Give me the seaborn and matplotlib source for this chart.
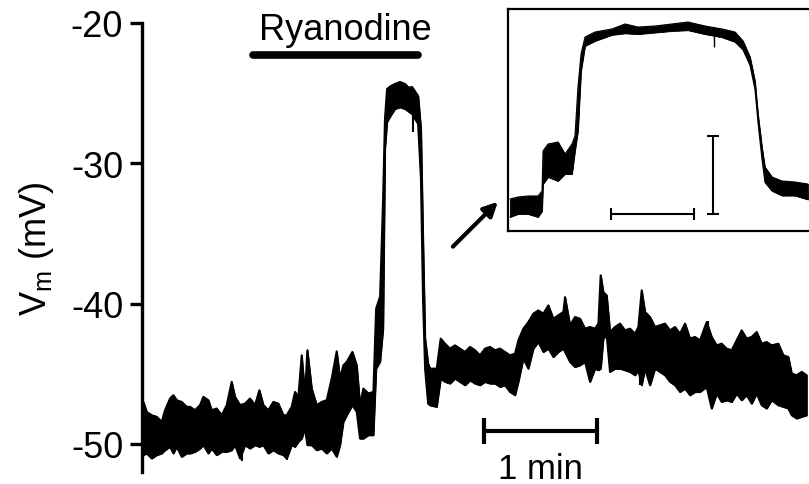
import numpy as np
import matplotlib
matplotlib.use("Agg")
import matplotlib.pyplot as plt
import seaborn as sns

# ===== DADOS =====
# traço principal: tempo (s) e envelope superior/inferior do Vm (mV)
tempo = [0.71, 2.48, 5.13, 7.79, 10.44, 12.21, 14.87, 16.64, 18.41, 21.06, 23.72,
         25.49, 28.14, 30.80, 32.57, 35.22, 36.99, 39.65, 42.30, 44.96, 47.61,
         49.38, 52.04, 54.69, 57.35, 60.00, 62.30, 64.43, 67.08, 69.74, 72.39,
         75.05, 76.82, 79.47, 81.24, 83.01, 84.78, 86.55, 87.79, 90.09, 92.75,
         95.40, 98.06, 100.71, 103.37, 105.14, 106.91, 108.68, 111.69, 113.99,
         115.76, 117.53, 120.18, 122.84,
         124.3, 126.4, 128.0, 129.0, 130.1, 132.0, 134.3, 137.0, 139.7, 141.5,
         143.4, 146.6, 148.1, 149.2, 150.3, 151.9,
         152.93, 156.47, 158.59, 160.90, 163.55, 166.21, 168.86, 171.52, 174.17,
         176.83, 179.48, 182.14, 184.79, 187.45, 190.10, 192.76, 195.41, 198.07,
         199.84, 202.49, 205.15, 207.80, 210.46, 213.11, 215.77, 218.42, 221.08,
         223.73, 224.62, 227.27, 229.93, 232.58, 235.24, 237.89, 240.55, 242.32,
         243.55, 244.97, 246.74, 248.51, 251.17, 253.82, 256.48, 259.13, 261.79,
         263.56, 265.33, 267.10, 269.75, 272.41, 275.06, 277.72, 280.37, 283.03,
         285.68, 288.34, 290.99, 293.65, 296.30, 299.84, 302.50, 305.15, 307.81,
         310.46, 313.12, 315.77, 318.43, 321.08, 323.74, 326.39, 329.05, 331.70,
         334.36, 337.90, 340.55, 343.21, 344.98, 347.63, 350.29, 352.94]
vm_sup = [-47.00, -47.71, -47.95, -48.06, -48.42, -47.59, -46.76, -46.52, -46.88,
          -47.00, -47.35, -47.35, -47.59, -47.23, -46.64, -46.88, -47.59, -47.47,
          -47.95, -47.23, -45.57, -46.64, -47.23, -47.12, -46.76, -47.23, -46.17,
          -47.23, -47.59, -47.00, -47.12, -47.95, -47.95, -47.35, -46.29, -46.64,
          -43.68, -46.52, -43.32, -46.05, -47.23, -47.00, -46.88, -45.34, -43.39,
          -45.34, -44.39, -44.15, -43.44, -44.39, -47.23, -46.05, -46.40, -46.29,
          -40.35, -39.50, -32.53, -26.83, -24.70, -24.50, -24.34, -24.20, -24.34,
          -24.60, -24.56, -25.20, -27.54, -35.37, -42.49, -44.27,
          -44.63, -44.63, -42.49, -42.85, -43.20, -42.97, -43.20, -43.44, -43.08,
          -43.32, -43.68, -43.20, -43.08, -43.32, -43.20, -43.44, -43.68, -43.56,
          -42.61, -41.78, -41.31, -40.71, -40.48, -40.71, -40.12, -41.07, -40.83,
          -40.59, -39.53, -41.54, -40.95, -41.07, -41.78, -41.66, -41.78, -41.42,
          -37.98, -39.17, -39.41, -42.02, -41.66, -41.42, -41.90, -41.78, -42.14,
          -41.66, -39.05, -40.59, -40.95, -41.66, -41.54, -41.42, -41.90, -41.66,
          -42.14, -41.42, -42.49, -42.37, -42.61, -41.31, -42.37, -42.97, -42.85,
          -43.20, -43.32, -42.61, -41.90, -42.49, -42.37, -42.02, -42.85, -42.73,
          -42.97, -42.85, -43.68, -43.80, -44.98, -45.10, -44.86, -45.10]
vm_inf = [-50.79, -50.67, -51.03, -50.79, -50.67, -50.44, -50.20, -50.67, -50.20,
          -50.91, -50.67, -50.67, -50.56, -50.32, -50.08, -50.67, -50.32, -50.79,
          -50.56, -50.56, -50.44, -50.08, -51.03, -50.08, -50.32, -50.08, -50.20,
          -50.08, -50.67, -50.44, -50.67, -50.79, -51.03, -50.08, -50.20, -49.84,
          -49.61, -48.89, -50.08, -50.08, -50.44, -50.32, -50.67, -50.32, -50.91,
          -50.08, -48.42, -47.95, -47.23, -47.71, -49.61, -49.61, -49.37, -49.37,
          -44.63, -44.13, -41.78, -28.97, -27.05, -26.60, -26.12, -26.00, -26.12,
          -26.30, -26.48, -27.19, -31.10, -39.64, -44.63, -47.12,
          -47.24, -47.35, -45.34, -45.57, -45.69, -45.34, -45.57, -45.81, -45.46,
          -45.69, -45.81, -45.57, -45.69, -45.69, -45.93, -45.81, -46.29, -46.52,
          -45.57, -43.91, -44.63, -43.20, -42.73, -43.44, -43.20, -43.80, -43.44,
          -43.20, -43.44, -44.15, -44.51, -44.39, -44.15, -45.57, -44.63, -44.74,
          -44.63, -42.49, -42.25, -44.86, -44.63, -44.63, -44.74, -44.86, -45.10,
          -44.74, -45.81, -44.63, -45.81, -44.63, -44.86, -45.10, -45.57, -45.81,
          -46.29, -46.05, -46.52, -46.29, -46.29, -45.93, -47.47, -46.41, -47.00,
          -46.88, -47.00, -46.41, -46.88, -46.52, -47.12, -46.41, -47.24, -47.47,
          -46.88, -47.24, -47.35, -47.47, -47.95, -48.18, -48.06, -47.95]

# picos finos isolados (tempo, min, max)
pico_t = [53.1, 77.0, 143.9, 237.9, 264.4, 265.5, 300.5]
pico_min = [-51.24, -51.17, -27.76, -45.55, -45.83, -41.6, -42.0]
pico_max = [-50.5, -50.2, -26.4, -44.0, -44.9, -39.07, -41.21]

# detalhe (inset)
ins_t = [0.24, 1.20, 2.41, 3.61, 4.10, 4.22, 4.82, 6.02, 6.87, 7.71, 8.07, 8.43,
         8.80, 9.28, 10.48, 12.53, 14.10, 15.66, 17.71, 19.76, 21.69, 23.73, 25.78,
         27.35, 28.31, 29.16, 29.76, 30.12, 30.60, 30.96, 31.81, 33.01, 34.58, 36.14]
ins_sup = [-46.54, -46.28, -46.15, -46.15, -45.51, -40.38, -39.49, -39.23, -40.77,
           -39.49, -38.46, -32.18, -27.95, -25.77, -25.13, -24.74, -24.10, -24.49,
           -24.36, -24.10, -23.85, -24.36, -24.74, -25.13, -26.28, -28.33, -31.41,
           -35.64, -39.87, -42.44, -43.72, -44.23, -44.36, -44.62]
ins_inf = [-48.85, -48.46, -48.46, -48.85, -48.08, -44.62, -43.72, -44.23, -43.33,
           -43.33, -40.38, -37.82, -30.13, -26.92, -26.28, -25.50, -25.30, -25.40,
           -25.20, -25.00, -24.90, -25.40, -25.80, -26.40, -27.40, -29.40, -32.50,
           -36.70, -41.40, -44.40, -45.50, -46.10, -46.10, -46.60]

ryanodina_ini, ryanodina_fim = 58.9, 146.6
barra_min = [181.6, 241.6]        # 1 min
ins_barra_s = [12.41, 22.41]      # 10 s
ins_barra_mv = [-38.46, -48.46]   # 10 mV

# ===== ESTILO =====
sns.set_theme(style="ticks", rc={"axes.edgecolor": "black", "ytick.color": "black",
                                 "xtick.color": "black", "text.color": "black",
                                 "axes.labelcolor": "black"})
plt.rcParams["font.family"] = ["Liberation Sans", "DejaVu Sans"]
plt.rcParams["mathtext.fontset"] = "custom"
plt.rcParams["mathtext.rm"] = "Liberation Sans"
plt.rcParams["mathtext.it"] = "Liberation Sans:italic"

fig = plt.figure(figsize=(8.09, 4.85), dpi=100)
ax = fig.add_axes([142 / 809, 1 - 473 / 485, 667 / 809, 449 / 485])

ax.fill_between(tempo, vm_inf, vm_sup, color="black", lw=1.0)
sns.lineplot(x=tempo, y=vm_sup, ax=ax, color="black", lw=1.4, sort=False)
sns.lineplot(x=tempo, y=vm_inf, ax=ax, color="black", lw=1.4, sort=False)
ax.vlines(pico_t, pico_min, pico_max, color="black", lw=1.5)

ax.set_xlim(0, 354.2)
ax.set_ylim(-52, -20)
ax.set_yticks([-20, -30, -40, -50])
ax.set_yticklabels(["-20", "-30", "-40", "-50"])
ax.set_xticks([])
for lado in ["top", "right", "bottom"]:
    ax.spines[lado].set_visible(False)
ax.spines["left"].set_linewidth(2.4)
ax.tick_params(axis="y", length=8.5, width=2.4, pad=5, labelsize=26)
ax.set_ylabel(r"V$_\mathrm{m}$ (mV)", fontsize=26, labelpad=11)

# barra da ryanodina
ax.plot([ryanodina_ini, ryanodina_fim], [-22.28, -22.28], color="black", lw=5.5,
        solid_capstyle="round", clip_on=False)
ax.text(108.0, -21.14, "Ryanodine", ha="center", va="baseline", fontsize=26,
        clip_on=False)

# barra de escala 1 min
ax.plot(barra_min, [-49.11, -49.11], color="black", lw=3, marker="|", ms=19, mew=3)
ax.text(np.mean(barra_min), -52.45, "1 min", ha="center", va="baseline",
        fontsize=25, clip_on=False)

# seta para o inset
ax.annotate("", xy=(189.0, -32.74), xytext=(165.1, -35.94),
            arrowprops=dict(arrowstyle="-|>,head_length=0.7,head_width=0.35",
                            color="black", lw=3, shrinkA=0, shrinkB=0))

# ===== INSET =====
axi = fig.add_axes([508 / 809, 1 - 232 / 485, 301 / 809, 222 / 485])
axi.fill_between(ins_t, ins_inf, ins_sup, color="black", lw=0.6)
sns.lineplot(x=ins_t, y=ins_sup, ax=axi, color="black", lw=0.8, sort=False)
sns.lineplot(x=ins_t, y=ins_inf, ax=axi, color="black", lw=0.8, sort=False)
axi.vlines([24.86], [-27.05], [-25.5], color="black", lw=1)
axi.plot(ins_barra_s, [-48.46, -48.46], color="black", lw=1.5, marker="|", ms=8, mew=1.5)
axi.plot([24.70, 24.70], ins_barra_mv, color="black", lw=1.5, marker="_", ms=9, mew=1.5)
axi.set_xlim(0, 36.27)
axi.set_ylim(-50.64, -22.18)
axi.set_xticks([])
axi.set_yticks([])
axi.spines["right"].set_visible(False)
for lado in ["top", "left", "bottom"]:
    axi.spines[lado].set_linewidth(1.6)

fig.savefig("out.png", dpi=100)
